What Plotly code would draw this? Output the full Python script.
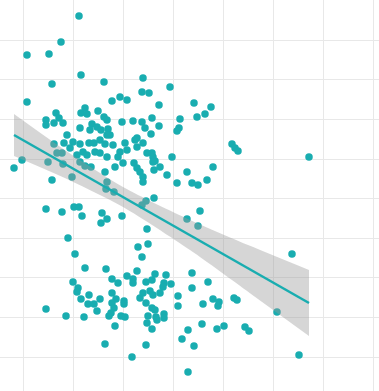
import plotly.graph_objects as go

# Values (arbitrary units)
x_vals = [
    5.6, 0.4, 2.6, 3.8, 5.8, 2.9, 8.1, 12.0, 0.4, 8.9, 9.7, 10.4, 11.9, 12.6, 14.7, 13.6, 17.1, 18.8, 18.2, 17.4, 15.7, 15.6, 15.4,
    3.3, 2.3, 2.3, 3.1, 3.6, 4.0, 5.8, 6.2, 6.4, 7.5, 8.1, 8.4, 5.7, 6.9, 7.4, 7.8, 8.5, 9.9, 4.4, 8.7, 6.7, 11.0, 11.9, 12.9, 12.2, 13.6, 12.8, 11.4,
    3.1, 4.1, 5.0, 5.7, 6.6, 7.1, 7.7, 8.4, 8.2, 9.0, 9.7, 10.2, 11.2, 12.0, 11.4, 12.9, 13.2, 11.1, 11.4, 11.7, 12.0, 12.0, 13.1, 13.7, 14.4, 14.9, 15.4,
    13.1, 12.3, 11.9, 8.4, 8.3, 9.1, 8.2, 5.7, 6.2, 6.8, 4.9, 2.9, 2.5, -0.1, -0.9, 3.9, 4.7, 5.4, 6.0, 6.4, 7.2, 7.7, 8.4, 9.5, 10.0, 9.2, 4.0, 3.4,
    16.4, 12.4, 10.4, 13.0, 13.0, 16.9, 17.5, 18.4, 19.0, 20.9, 21.2, 21.5, 28.6,
    2.3, 3.9, 5.1, 5.6, 5.9, 7.9, 8.4, 7.8, 9.9, 4.5, 5.2, 12.4, 12.5, 11.5, 11.9, 16.4, 17.7, 17.5, 26.9,
    6.2, 8.3, 5.0, 5.5, 5.4, 5.8, 6.6, 6.5, 7.1, 7.7, 7.4, 2.3, 4.3, 6.1, 8.2, 8.9, 9.5, 10.4, 11.0, 11.4, 11.0,
    8.9, 9.3, 8.9, 9.1, 10.1, 10.1, 11.7, 12.0, 12.3, 12.9, 13.2, 14.3, 14.1, 14.0, 13.7, 14.8, 12.7, 13.0, 12.3,
    12.9, 13.2, 12.5, 13.3, 13.4, 14.1, 14.1, 12.4, 12.9, 12.3, 10.9, 15.5, 15.5, 16.5, 15.9, 16.5,
    16.9, 16.9, 18.5, 18.0, 19.0, 19.6, 19.5, 21.1, 21.4, 25.4, 17.9, 19.4, 20.1, 22.2, 22.6, 17.1, 27.6,
    8.6, 9.2, 9.8, 10.2, 8.8,
]
y_vals = [
    34.1, 30.2, 30.3, 31.5, 28.2, 27.3, 27.5, 27.9, 25.5, 25.6, 26.0, 25.7, 26.5, 26.4, 27.0, 25.2, 25.4, 25.0, 24.3, 24.0, 23.8, 22.9, 22.6,
    24.4, 23.7, 23.2, 23.4, 23.9, 23.4, 24.4, 24.9, 24.3, 24.6, 24.0, 23.7, 22.9, 23.3, 23.0, 22.7, 22.8, 23.5, 22.2, 22.2, 22.7, 23.6, 23.5, 23.9, 22.9, 23.1, 22.3, 21.9,
    21.3, 21.4, 21.5, 21.3, 21.4, 21.4, 21.7, 22.2, 21.3, 21.2, 20.5, 21.4, 21.7, 21.4, 21.0, 20.4, 19.6, 19.4, 18.9, 18.5, 18.0, 17.5, 18.7, 19.0, 18.2, 20.0, 17.4,
    15.9, 15.6, 15.2, 17.5, 16.8, 16.5, 18.5, 19.5, 19.1, 19.0, 18.0, 17.7, 19.5, 19.7, 18.9, 20.4, 20.9, 20.2, 20.5, 20.2, 20.5, 20.4, 20.0, 20.0, 19.4, 19.0, 19.3, 20.4,
    18.5, 20.4, 20.7, 20.0, 19.5, 17.4, 17.2, 17.7, 19.0, 21.3, 20.9, 20.6, 20.0,
    14.8, 14.5, 15.0, 15.0, 14.1, 14.4, 13.8, 13.4, 14.1, 11.9, 10.3, 12.8, 11.3, 11.0, 10.0, 13.8, 14.6, 13.1, 10.3,
    8.9, 8.8, 7.5, 6.9, 6.5, 5.8, 6.2, 5.3, 5.3, 5.8, 4.6, 4.8, 4.1, 4.0, 1.3, 7.8, 7.4, 8.1, 7.8, 8.6, 7.4,
    6.4, 5.8, 5.4, 4.9, 5.6, 5.3, 5.9, 6.4, 7.5, 7.7, 8.3, 8.2, 7.4, 7.0, 6.4, 7.3, 6.6, 6.2, 5.4,
    4.9, 4.7, 4.1, 4.0, 3.7, 4.3, 3.9, 3.4, 2.8, 1.2, 0.0, 6.1, 5.1, 2.7, 1.8, -1.5,
    8.4, 6.9, 7.5, 5.3, 5.8, 5.5, 5.1, 5.9, 5.7, 4.5, 3.3, 2.8, 3.1, 3.0, 2.6, 1.1, 0.2,
    4.1, 3.1, 4.1, 4.0, 4.4,
]

# Fitted trend line and its confidence band
fit_x = [-0.9, 4.7, 10.0, 16.7, 22.7, 28.6]
fit_y = [22.2, 19.0, 16.0, 12.2, 8.75, 5.4]
band_hi = [24.3, 20.34, 17.0, 13.71, 11.12, 8.7]
band_lo = [20.1, 17.66, 15.0, 10.69, 6.38, 2.1]

teal = "#19adb0"

fig = go.Figure()
fig.add_trace(go.Scatter(
    x=x_vals, y=y_vals, mode="markers",
    marker=dict(color=teal, size=7.5, line=dict(width=0)),
    hoverinfo="skip", showlegend=False,
))
fig.add_trace(go.Scatter(
    x=fit_x, y=band_lo, mode="lines",
    line=dict(width=0, shape="spline", smoothing=0.8),
    hoverinfo="skip", showlegend=False,
))
fig.add_trace(go.Scatter(
    x=fit_x, y=band_hi, mode="lines",
    line=dict(width=0, shape="spline", smoothing=0.8),
    fill="tonexty", fillcolor="rgba(153,153,153,0.4)",
    hoverinfo="skip", showlegend=False,
))
fig.add_trace(go.Scatter(
    x=fit_x, y=fit_y, mode="lines",
    line=dict(color=teal, width=2.5),
    hoverinfo="skip", showlegend=False,
))

fig.update_layout(
    width=379, height=391,
    margin=dict(l=0, r=0, t=0, b=0),
    paper_bgcolor="white", plot_bgcolor="white",
    showlegend=False,
)
fig.update_xaxes(
    range=[-2.3, 35.6], showticklabels=False, ticks="",
    showgrid=True, gridcolor="#e8e8e8", gridwidth=1,
    tick0=0, dtick=5, zeroline=False, showline=False,
)
fig.update_yaxes(
    range=[-3.4, 35.7], showticklabels=False, ticks="",
    showgrid=True, gridcolor="#e8e8e8", gridwidth=1,
    tick0=0, dtick=3.96, zeroline=False, showline=False,
)

fig.write_html(
    "out.html",
    config={"displayModeBar": False},
    post_script="document.body.style.margin='0';",
)
